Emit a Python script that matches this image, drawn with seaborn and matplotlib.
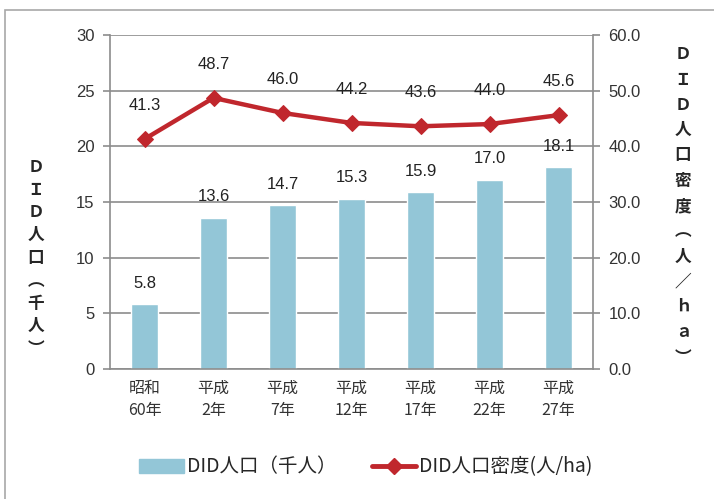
import numpy as np
import matplotlib
matplotlib.use('Agg')
import matplotlib.pyplot as plt
import matplotlib.patches as mpatches
from matplotlib.lines import Line2D
import seaborn as sns

# ── Data ────────────────────────────────────────────────────────────────────
years      = ['昭和\n60年', '平成\n2年', '平成\n7年', '平成\n12年',
              '平成\n17年', '平成\n22年', '平成\n27年']
pop_k      = [5.8, 13.6, 14.7, 15.3, 15.9, 17.0, 18.1]     # DID人口（千人）
density    = [41.3, 48.7, 46.0, 44.2, 43.6, 44.0, 45.6]    # DID人口密度(人/ha)
left_ticks  = [0, 5, 10, 15, 20, 25, 30]
right_ticks = [0, 10, 20, 30, 40, 50, 60]

BAR_C  = '#93C6D7'
LINE_C = '#C0272D'
GRID_C = '#8C8C8C'

sns.set_style('white')
plt.rcParams['font.family'] = ['Noto Sans CJK JP', 'DejaVu Sans']

fig = plt.figure(figsize=(7.14, 4.99), dpi=100)
ax = fig.add_axes([110/714, 1-369/499, (593-110)/714, (369-35)/499])

# ── Bars ────────────────────────────────────────────────────────────────────
x = np.arange(len(years))
sns.barplot(x=x, y=pop_k, ax=ax, color=BAR_C, width=0.4, saturation=1,
            native_scale=True, zorder=2)
ax.set_xlim(-0.5, len(years) - 0.5)
ax.set_ylim(0, 30)
ax.set_yticks(left_ticks)
ax.set_yticklabels([str(t) for t in left_ticks], family='Liberation Sans',
                   fontsize=12, color='#333333')
ax.grid(axis='y', color=GRID_C, lw=1.2, zorder=0)
ax.set_axisbelow(True)
ax.set_xticks(x)
ax.set_xticklabels(years, fontsize=11.5, color='#333333', linespacing=1.35)
ax.set_xticks(np.arange(len(years) + 1) - 0.5, minor=True)
ax.tick_params(axis='x', which='major', length=0, pad=8)
ax.tick_params(axis='x', which='minor', length=5, color=GRID_C, width=1.2)
ax.tick_params(axis='y', length=5, color=GRID_C, width=1.2, pad=6)
for s in ['left', 'bottom', 'right']:
    ax.spines[s].set_color(GRID_C)
    ax.spines[s].set_linewidth(1.2)
ax.spines['top'].set_visible(False)
ax.set_xlabel(''); ax.set_ylabel('')

for xi, v in zip(x, pop_k):
    ax.annotate(f'{v:.1f}', (xi, v), xytext=(0, 15), textcoords='offset points',
                ha='center', va='center', fontsize=12, family='Liberation Sans',
                color='#222222')

# ── Line on secondary axis ──────────────────────────────────────────────────
ax2 = ax.twinx()
sns.lineplot(x=x, y=density, ax=ax2, color=LINE_C, lw=3.2, marker='D',
             markersize=8, markeredgecolor=LINE_C, zorder=3)
ax2.set_ylim(0, 60)
ax2.set_yticks(right_ticks)
ax2.set_yticklabels([f'{t:.1f}' for t in right_ticks], family='Liberation Sans',
                    fontsize=12, color='#333333')
ax2.tick_params(axis='y', length=5, color=GRID_C, width=1.2, pad=6)
for s in ax2.spines.values():
    s.set_visible(False)
ax2.set_ylabel('')

for xi, v in zip(x, density):
    ax2.annotate(f'{v:.1f}', (xi, v), xytext=(0, 24), textcoords='offset points',
                 ha='center', va='center', fontsize=12, family='Liberation Sans',
                 color='#222222')

# ── Vertical axis titles ───────────────────────────────────────────────────
left_title = 'ＤＩＤ人口︵千人︶'
right_title = 'ＤＩＤ人口密度︵人／ｈａ︶'
fig.text(36/714, 1-258/499, '\n'.join(left_title), ha='center', va='center',
         fontsize=12, fontweight='bold', linespacing=1.34)
fig.text(683/714, 1-206/499, '\n'.join(right_title), ha='center', va='center',
         fontsize=12, fontweight='bold', linespacing=1.52)

# ── Legend ──────────────────────────────────────────────────────────────────
handles = [mpatches.Patch(color=BAR_C),
           Line2D([], [], color=LINE_C, lw=3.5, marker='D', markersize=8)]
fig.legend(handles, ['DID人口（千人）', 'DID人口密度(人/ha)'],
           loc='center', bbox_to_anchor=(366/714, 1-467/499), ncol=2,
           frameon=False, fontsize=14, handlelength=2.3, handletextpad=0.15,
           columnspacing=1.8)

# ── Outer frame ─────────────────────────────────────────────────────────────
fig.patches.append(mpatches.Rectangle((5/714, -0.02), 1.0, 1-10/499 + 0.02,
                                      transform=fig.transFigure, fill=False,
                                      edgecolor='#A8A8A8', lw=1.2))

fig.savefig('out.png', dpi=100)
